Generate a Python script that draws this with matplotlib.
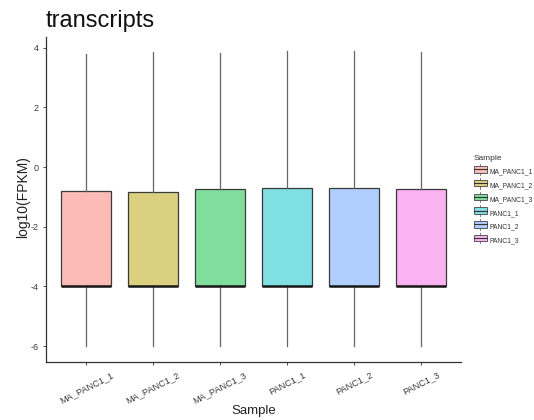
import matplotlib.pyplot as plt
import matplotlib.transforms as mtransforms
from matplotlib.patches import Patch
from matplotlib.lines import Line2D
from matplotlib.legend_handler import HandlerBase

plt.rcParams['font.family'] = ['Liberation Sans', 'DejaVu Sans']

samples = ['MA_PANC1_1', 'MA_PANC1_2', 'MA_PANC1_3', 'PANC1_1', 'PANC1_2', 'PANC1_3']
whisker_hi = [3.79, 3.85, 3.82, 3.88, 3.88, 3.85]
q3 = [-0.79, -0.82, -0.74, -0.70, -0.70, -0.73]
median = [-4.0, -4.0, -4.0, -4.0, -4.0, -4.0]
q1 = [-4.0, -4.0, -4.0, -4.0, -4.0, -4.0]
whisker_lo = [-6.0, -6.0, -6.0, -6.0, -6.0, -6.0]
colors = ['#F8766D', '#B79F00', '#00BA38', '#00BFC4', '#619CFF', '#F564E3']

W, H = 534, 420
fig = plt.figure(figsize=(W / 100, H / 100), dpi=100)
ax = fig.add_axes([46 / W, 1 - 361.7 / H, 415 / W, 324.7 / H])

stats = []
for i, s in enumerate(samples):
    stats.append(dict(label=s, whislo=whisker_lo[i], q1=q1[i], med=median[i],
                      q3=q3[i], whishi=whisker_hi[i], fliers=[]))


def lighten(c):
    # ggplot fill with alpha 0.5 over white
    r, g, b = [int(c[k:k + 2], 16) for k in (1, 3, 5)]
    return ((r + 255) / 510, (g + 255) / 510, (b + 255) / 510)


fills = [lighten(c) for c in colors]

bp = ax.bxp(stats, positions=range(1, 7), widths=0.75, patch_artist=True,
            showcaps=False,
            boxprops=dict(edgecolor='#3a3a3a', linewidth=0.9),
            whiskerprops=dict(color='#666666', linewidth=0.9),
            medianprops=dict(color='#1a1a1a', linewidth=1.8))
for patch, f in zip(bp['boxes'], fills):
    patch.set_facecolor(f)

ax.set_xlim(0.4, 6.6)
ax.set_ylim(-6.52, 4.36)
ax.set_yticks([-6, -4, -2, 0, 2, 4])
ax.set_yticklabels(['-6', '-4', '-2', '0', '2', '4'])
ax.set_xticks(range(1, 7))
ax.set_xticklabels(samples, rotation=27, ha='center', va='top')
shift = mtransforms.ScaledTranslation(5 / 100, 0, fig.dpi_scale_trans)
for lab in ax.get_xticklabels():
    lab.set_transform(lab.get_transform() + shift)

for side in ('top', 'right'):
    ax.spines[side].set_visible(False)
for side in ('left', 'bottom'):
    ax.spines[side].set_color('#333333')
    ax.spines[side].set_linewidth(0.9)
ax.tick_params(axis='y', labelsize=6.5, colors='#4d4d4d', length=2, width=0.7, pad=3)
ax.tick_params(axis='x', labelsize=6.6, colors='#4d4d4d', length=2, width=0.7, pad=4)
for lab in ax.get_xticklabels() + ax.get_yticklabels():
    lab.set_color('#3a3a3a')

fig.text(253.5 / W, 1 - 411 / H, 'Sample', fontsize=9.5, color='#222222',
         ha='center', va='center')
fig.text(23 / W, 1 - 197 / H, 'log10(FPKM)', fontsize=10, color='#222222',
         ha='center', va='center', rotation=90)
fig.text(46 / W, 1 - 27 / H, 'transcripts', fontsize=17, color='#111111',
         ha='left', va='baseline')


class BoxKey(HandlerBase):
    def create_artists(self, legend, orig, xd, yd, w, h, fs, trans):
        cx = xd + w / 2
        line = Line2D([cx, cx], [yd - 1.5, yd + h + 1.5], color='#666666', lw=0.6,
                      transform=trans)
        rect = plt.Rectangle((xd, yd), w, h, facecolor=orig.get_facecolor(),
                             edgecolor='#444444', lw=0.6, transform=trans)
        mid = Line2D([xd, xd + w], [yd + h / 2, yd + h / 2], color='#333333',
                     lw=0.8, transform=trans)
        return [line, rect, mid]


handles = [Patch(facecolor=f, label=s) for f, s in zip(fills, samples)]
leg = fig.legend(handles=handles, title='Sample', loc='upper left',
                 bbox_to_anchor=(474 / W, 1 - 155 / H), frameon=False, fontsize=4.9,
                 title_fontsize=6, handler_map={Patch: BoxKey()},
                 handlelength=1.9, handleheight=1.1, labelspacing=0.9,
                 handletextpad=0.4, borderaxespad=0, borderpad=0)
leg._legend_box.align = 'left'
for t in leg.get_texts():
    t.set_color('#333333')
leg.get_title().set_color('#333333')

fig.savefig('out.png', dpi=100)
